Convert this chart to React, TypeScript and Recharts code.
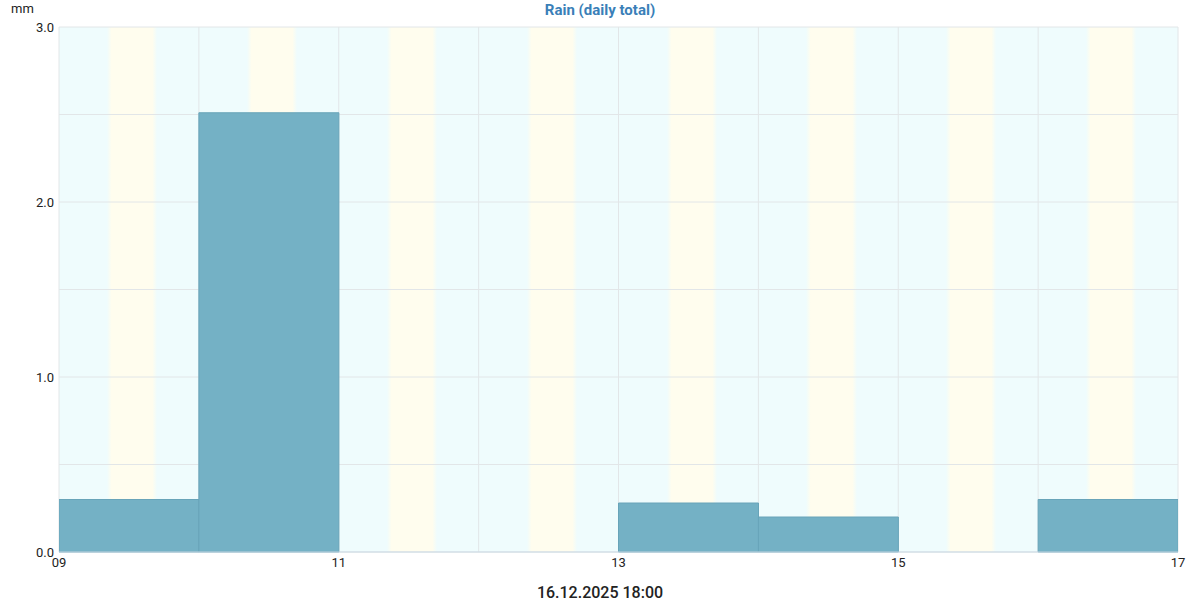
import React from 'react';
import { ComposedChart, Bar, XAxis, YAxis, CartesianGrid } from 'recharts';

const days = ['09', '10', '11', '12', '13', '14', '15', '16'];
const rain = [0.3, 2.51, 0, 0, 0.28, 0.2, 0, 0.3];
const boundaryLabels = ['09', '10', '11', '12', '13', '14', '15', '16', '17'];
const sunriseHours = [8.55, 8.55, 8.57, 8.58, 8.59, 8.6, 8.61, 8.62];
const sunsetHours = [16.48, 16.48, 16.48, 16.48, 16.48, 16.49, 16.49, 16.49];
const yTicks = [0, 0.5, 1, 1.5, 2, 2.5, 3];
const title = 'Rain (daily total)';
const unit = 'mm';
const footer = '16.12.2025 18:00';

const FONT = 'Roboto, "Noto Sans", sans-serif';
const X_MIN = 0;
const X_MAX = days.length;
const FADE_H = 0.35;

function toPixel(xAxis: any, offset: any, v: number) {
  const s = xAxis && xAxis.scale;
  if (typeof s === 'function') {
    const p = s(v);
    if (typeof p === 'number' && !Number.isNaN(p)) return p;
  }
  if (s && typeof s.map === 'function') {
    const p = s.map(v);
    if (typeof p === 'number' && !Number.isNaN(p)) return p;
  }
  return offset.left + ((v - X_MIN) / (X_MAX - X_MIN)) * offset.width;
}

// stripe boundaries: plot start, then sunrise/sunset of every day
const dayNightGenerator = ({ xAxis, offset }: any) => {
  const pts: number[] = [toPixel(xAxis, offset, X_MIN)];
  days.forEach((_, i) => {
    pts.push(toPixel(xAxis, offset, i + (sunriseHours[i] - FADE_H) / 24));
    pts.push(toPixel(xAxis, offset, i + (sunsetHours[i] + FADE_H) / 24));
  });
  return pts;
};

export default function App() {
  // each day's bar is centred in the middle of its day on a numeric day axis
  const data = days.map((d, i) => ({ day: d, x: i + 0.5, rain: rain[i] }));
  const xTicks = boundaryLabels.map((_, i) => i);
  return (
    <div style={{ position: 'absolute', left: 0, top: 0, width: 1200, height: 600, background: '#fff', fontFamily: FONT }}>
      <div style={{ position: 'absolute', left: 0, top: 0, width: 1200, textAlign: 'center', fontSize: 15, lineHeight: '20px', fontWeight: 700, color: '#3a7fb8' }}>{title}</div>
      <div style={{ position: 'absolute', left: 11, top: 0, fontSize: 13, lineHeight: '18px', color: '#222' }}>{unit}</div>
      <div style={{ position: 'absolute', left: 0, top: 583, width: 1200, textAlign: 'center', fontSize: 16, lineHeight: '20px', fontWeight: 500, color: '#222' }}>{footer}</div>
      <ComposedChart width={1200} height={600} data={data} margin={{ top: 27, right: 22, bottom: 18, left: 9 }} barCategoryGap={0} barGap={0}>
        <defs>
          <linearGradient id="dayGrad" x1="0" y1="0" x2="1" y2="0">
            <stop offset="0" stopColor="#fffdee" stopOpacity={0} />
            <stop offset="0.09" stopColor="#fffdee" stopOpacity={1} />
            <stop offset="0.91" stopColor="#fffdee" stopOpacity={1} />
            <stop offset="1" stopColor="#fffdee" stopOpacity={0} />
          </linearGradient>
        </defs>
        <XAxis
          xAxisId="num"
          dataKey="x"
          type="number"
          domain={[X_MIN, X_MAX]}
          ticks={xTicks}
          interval={0}
          allowDataOverflow
          height={30}
          tickLine={false}
          tickSize={4}
          tickMargin={2}
          axisLine={{ stroke: '#c9d9e4', strokeWidth: 1 }}
          tick={{ fill: '#222', fontSize: 13, fontFamily: FONT }}
          tickFormatter={(v: number) => (v % 2 === 0 ? boundaryLabels[v] : '')}
        />
        <YAxis
          yAxisId="y"
          domain={[0, 3]}
          ticks={yTicks}
          interval={0}
          width={50}
          axisLine={false}
          tickLine={false}
          tickSize={3}
          tickMargin={2}
          tick={{ fill: '#222', fontSize: 13, fontFamily: FONT }}
          tickFormatter={(v: number) => (Number.isInteger(v) ? v.toFixed(1) : '')}
        />
        <CartesianGrid
          xAxisId="num"
          yAxisId="y"
          horizontal={false}
          vertical={true}
          stroke="none"
          strokeWidth={0}
          fill="#effcfd"
          fillOpacity={1}
          verticalFill={['#effcfd', 'url(#dayGrad)']}
          verticalCoordinatesGenerator={dayNightGenerator}
        />
        <CartesianGrid xAxisId="num" yAxisId="y" stroke="#e2e6e8" strokeWidth={1} />
        <Bar xAxisId="num" yAxisId="y" dataKey="rain" fill="#74b1c5" stroke="#68a4b9" strokeWidth={1} isAnimationActive={false} />
      </ComposedChart>
    </div>
  );
}
